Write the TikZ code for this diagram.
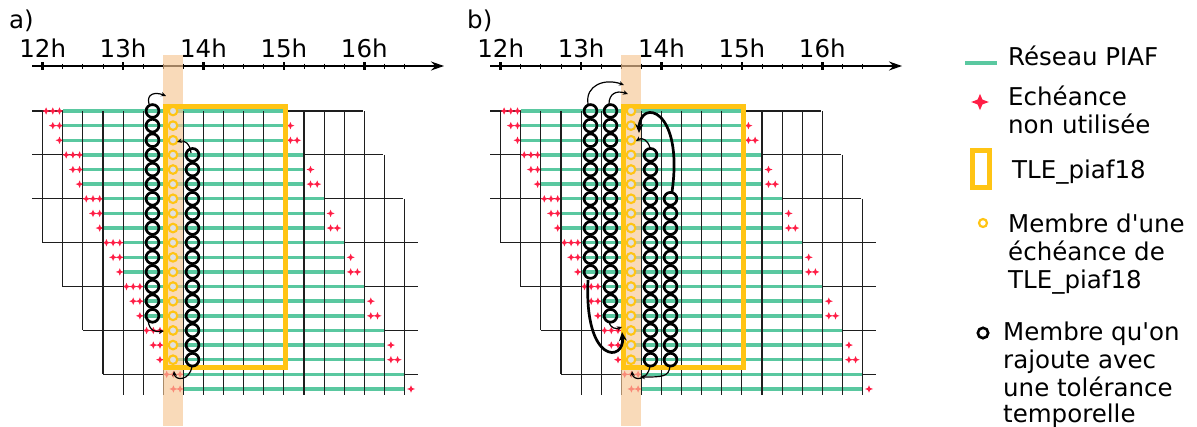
\documentclass[tikz,border=0pt]{standalone}
\usepackage{fontspec}
\newfontfamily\legfont{DejaVu Sans}
\usetikzlibrary{arrows.meta}
\definecolor{piafgreen}{RGB}{90,200,160}
\definecolor{tleyellow}{RGB}{255,196,20}
\definecolor{starred}{RGB}{255,30,70}
\definecolor{bandorange}{RGB}{246,198,148}
\definecolor{gridgray}{RGB}{30,30,30}
\tikzset{
  gridline/.style={gridgray, line width=1.15},
  greenline/.style={piafgreen, line width=3.4},
  tlebox/.style={tleyellow, line width=5},
  tlemember/.style={tleyellow, line width=2.1, fill=black!12},
  addmember/.style={black, line width=2.7},
  thinarrow/.style={black, line width=1.2, -{Stealth[length=5,width=4.5]}},
  thickarrow/.style={black, line width=2.7, -{Stealth[length=9,width=8]}},
  lbl/.style={font=\legfont\fontsize{24.5}{28}\selectfont, inner sep=0pt, anchor=base},
  legtxt/.style={lbl, anchor=base west},
  rstar/.pic={\fill[starred] (4,0) -- (1.1,1.1) -- (0,3.7) -- (-1.1,1.1) -- (-4,0) -- (-1.1,-1.1) -- (0,-3.7) -- (1.1,-1.1) -- cycle;},
}
\newcommand{\pafpanel}{%
  % axis
  \draw[line width=1.2, -{Stealth[length=13,width=9]}] (32,66) -- (444,66);
  \foreach \j in {0,...,18} { \draw[line width=1] ({42.7+20.1*\j},63.5) -- ++(0,5); }
  \foreach \j/\t in {0/12h,4/13h,8/14h,12/15h,16/16h} {
     \draw[line width=2.6] ({42.7+20.1*\j},62) -- ++(0,8);
     \node[lbl] (lab\t) at ({42.7+20.1*\j},57) {\t};
  }
  % horizontal black lines (top of each group)
  \foreach \grp in {0,...,6} {
     \pgfmathsetmacro\xl{max(32,42.7+20.1*(\grp-3))}
     \pgfmathsetmacro\xr{min(418,363+20.1*\grp)}
     \draw[gridline] (\xl,{111+43.89*\grp}) -- (\xr,{111+43.89*\grp});
  }
  % green lines and stars
  \foreach \rr in {0,...,19} {
     \pgfmathtruncatemacro\grp{int(\rr/3)}
     \pgfmathtruncatemacro\sub{\rr-3*\grp}
     \pgfmathsetmacro\yy{111+14.63*\rr}
     \pgfmathsetmacro\xs{62.8+20.1*\grp}
     \pgfmathsetmacro\xe{284.4+20.1*\grp}
     \draw[greenline] (\xs,\yy) -- (\xe,\yy);
     \pgfmathtruncatemacro\nl{2-\sub}
     \foreach \m in {0,...,\nl} \pic at ({\xs-3.3-6.7*\m},\yy) {rstar};
     \ifnum\sub>0
       \pgfmathtruncatemacro\nr{\sub-1}
       \foreach \m in {0,...,\nr} \pic at ({\xe+6+6.7*\m},\yy) {rstar};
     \fi
  }
  % vertical black lines
  \foreach \j in {0,...,18} {
     \pgfmathsetmacro\xx{42.7+20.1*\j}
     \pgfmathsetmacro\yt{111+43.89*max(\j-16,0)}
     \pgfmathtruncatemacro\gm{min(\j+2,6)}
     \pgfmathsetmacro\yb{\gm<6 ? 111+43.89*(\gm+1) : 395}
     \draw[gridline] (\xx,\yt) -- (\xx,\yb);
  }
  % tolerance band
  \fill[bandorange, opacity=0.65] (163,55) rectangle (183,426);
  % TLE box and its members
  \draw[tlebox] (165.5,106) rectangle (285,367);
  \foreach \rr in {0,...,17} \draw[tlemember] (173,{111+14.63*\rr}) circle (4.3);
}
\begin{document}
\begin{tikzpicture}[x=1pt,y=-1pt]
\useasboundingbox (0,0) rectangle (1197,426);
% ---------- panel a ----------
\node[legtxt] (pa) at (9,28) {a)};
\pafpanel
\foreach \rr in {0,...,14} \draw[addmember] (152.5,{111+14.63*\rr}) circle (6.4);
\foreach \rr in {3,...,17} \draw[addmember] (192.5,{111+14.63*\rr}) circle (6.4);
\draw[thinarrow] (149,104) .. controls (146,93) and (156,92) .. (166,96);
\draw[thinarrow] (191,153) .. controls (190,143) and (184,140) .. (177,142);
\draw[thinarrow] (148,321) .. controls (150,332) and (156,332) .. (164,331);
\draw[thinarrow] (192,366) .. controls (190,381) and (175,381) .. (174,371);
% ---------- panel b ----------
\node[legtxt] (pb) at (467,28) {b)};
\begin{scope}[xshift=458]
\pafpanel
\foreach \rr in {0,...,11} \draw[addmember] (132.5,{111+14.63*\rr}) circle (6.4);
\foreach \rr in {0,...,14} \draw[addmember] (152.5,{111+14.63*\rr}) circle (6.4);
\foreach \rr in {3,...,17} \draw[addmember] (192.5,{111+14.63*\rr}) circle (6.4);
\foreach \rr in {6,...,17} \draw[addmember] (212.5,{111+14.63*\rr}) circle (6.4);
\draw[thinarrow] (130,104) .. controls (127,85) and (147,78) .. (166,85);
\draw[thinarrow] (151,104) .. controls (151,94) and (158,90) .. (170,94);
\draw[thinarrow] (192,148) .. controls (190,140) and (184,137) .. (178,141);
\draw[thickarrow] (214,192) .. controls (226,108) and (182,98) .. (181,133);
\draw[thickarrow] (130,280) .. controls (126,365) and (167,362) .. (164,332);
\draw[thinarrow] (151,322) .. controls (153,329) and (158,329) .. (164,327);
\draw[thinarrow] (192,366) .. controls (190,381) and (175,381) .. (174,371);
\draw[thinarrow] (212,366) .. controls (211,377) and (204,377) .. (182,377);
\end{scope}
% ---------- legend ----------
\draw[greenline] (965,63) -- (997,63);
\node[legtxt] (l1) at (1008,65) {Réseau PIAF};
\pic[scale=2.2] at (980,102) {rstar};
\node[legtxt] (l2a) at (1008,105) {Echéance};
\node[legtxt] (l2b) at (1008,133) {non utilisée};
\draw[tleyellow, line width=4.5] (972.5,150.5) rectangle (989.5,187.5);
\node[legtxt] (l3) at (1012,178) {TLE\_piaf18};
\draw[tleyellow, line width=2.2] (983,223) circle (4);
\node[legtxt] (l4a) at (1008,232) {Membre d'une};
\node[legtxt] (l4b) at (1008,260) {échéance de};
\node[legtxt] (l4c) at (1008,288) {TLE\_piaf18};
\draw[black, line width=2.6] (983,333) circle (5.2);
\node[legtxt] (l5a) at (1003,340) {Membre qu'on};
\node[legtxt] (l5b) at (1003,368) {rajoute avec};
\node[legtxt] (l5c) at (1003,396) {une tolérance};
\node[legtxt] (l5d) at (1003,422) {temporelle};
\end{tikzpicture}
\end{document}
